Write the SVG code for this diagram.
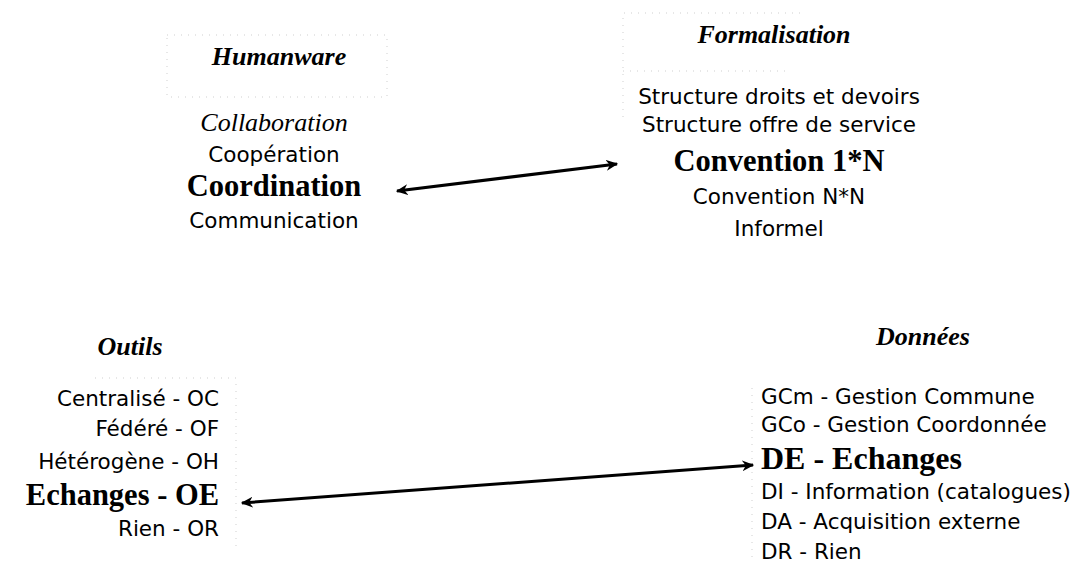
<svg xmlns="http://www.w3.org/2000/svg" width="1084" height="564" viewBox="0 0 1084 564">
<style>
.h{font-family:"Liberation Serif",serif;font-weight:bold;font-style:italic;font-size:26px;fill:#000}
.s{font-family:"DejaVu Sans",sans-serif;font-size:21.5px;fill:#000}
.b{font-family:"Liberation Serif",serif;font-weight:bold;font-size:30.5px;fill:#000}
.i{font-family:"Liberation Serif",serif;font-style:italic;font-size:26px;fill:#000}
.m{text-anchor:middle}
.r{text-anchor:end}
.box{fill:none;stroke:#cfcfcf;stroke-width:1;stroke-dasharray:1 6}
.c{stroke:#000;stroke-width:3;fill:none}
</style>
<defs>
<marker id="ah" viewBox="0 0 10 10" refX="9" refY="5" markerWidth="4" markerHeight="4" orient="auto-start-reverse" markerUnits="strokeWidth">
<path d="M0,0.5 L10,5 L0,9.5 L3,5 Z" fill="#000"/>
</marker>
</defs>
<g id="humanware">
<rect class="box" x="167" y="35" width="220" height="62"/>
<text class="h m" x="279" y="65">Humanware</text>
<text class="i m" x="274" y="131">Collaboration</text>
<text class="s m" x="274" y="162">Coopération</text>
<text class="b m" x="274" y="196">Coordination</text>
<text class="s m" x="274" y="228">Communication</text>
</g>
<g id="formalisation">
<path class="box" d="M800,13 H623 V120 M623,71 H790"/>
<text class="h m" x="774" y="43">Formalisation</text>
<text class="s m" x="779" y="104">Structure droits et devoirs</text>
<text class="s m" x="779" y="132">Structure offre de service</text>
<text class="b m" x="779" y="171">Convention 1*N</text>
<text class="s m" x="779" y="204">Convention N*N</text>
<text class="s m" x="779" y="236">Informel</text>
</g>
<g id="outils">
<path class="box" d="M95,378 H236 V548"/>
<text class="h m" x="130" y="355">Outils</text>
<text class="s r" x="219" y="406">Centralisé - OC</text>
<text class="s r" x="219" y="436">Fédéré - OF</text>
<text class="s r" x="219" y="469">Hétérogène - OH</text>
<text class="b r" x="219" y="505">Echanges - OE</text>
<text class="s r" x="219" y="536">Rien - OR</text>
</g>
<g id="donnees">
<path class="box" d="M752,388 V562"/>
<text class="h m" x="923" y="345">Données</text>
<text class="s" x="761" y="404">GCm - Gestion Commune</text>
<text class="s" x="761" y="432">GCo - Gestion Coordonnée</text>
<text class="b" x="761" y="469" style="font-size:32px">DE - Echanges</text>
<text class="s" x="761" y="499">DI - Information (catalogues)</text>
<text class="s" x="761" y="529">DA - Acquisition externe</text>
<text class="s" x="761" y="559">DR - Rien</text>
</g>
<g id="connectors">
<line class="c" x1="397" y1="191" x2="617" y2="164" marker-start="url(#ah)" marker-end="url(#ah)"/>
<line class="c" x1="242" y1="503" x2="753" y2="465" marker-start="url(#ah)" marker-end="url(#ah)"/>
</g>
</svg>
